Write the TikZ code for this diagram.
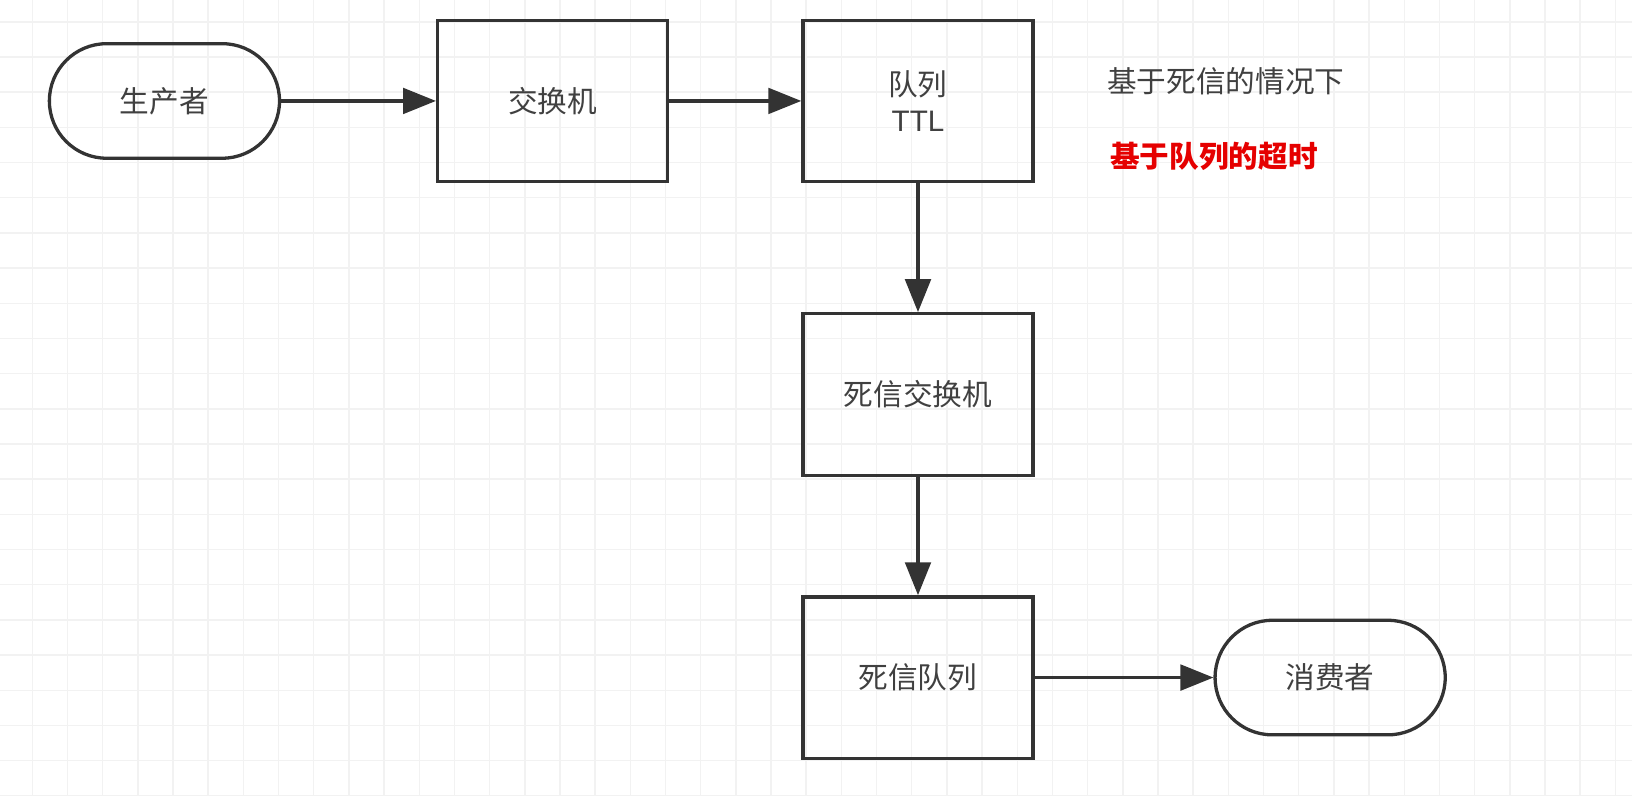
\documentclass[tikz,border=0pt]{standalone}
\usepackage{fontspec}
\setmainfont{Liberation Sans}
\newfontfamily\cjk{Noto Sans CJK SC}
\usetikzlibrary{positioning,arrows.meta}
\tikzset{%
box/.style={draw=black!80,line width=0.9pt,rectangle,minimum width=2.21cm,minimum height=1.55cm,font=\cjk\fontsize{8.1}{10}\selectfont,text=black!75,align=center},
term/.style={box,rounded corners=0.55cm,minimum height=1.1cm},
flow/.style={draw=black!80,line width=0.9pt,-{Triangle[length=9pt,width=7pt]}},
note/.style={anchor=west,inner sep=0,font=\cjk\fontsize{8.1}{10}\selectfont}
}
\begin{document}
\begin{tikzpicture}[x=0.01cm,y=-0.01cm]
  \useasboundingbox (0,0) rectangle (1568,764);
  % grid
  \foreach \i in {0,...,46} {
    \draw[black!5,line width=0.4pt] ({-2.8+33.8*\i},0) -- ({-2.8+33.8*\i},764);
  }
  \foreach \j in {0,...,22} {
    \draw[black!5,line width=0.4pt] (0,{21+33.8*\j}) -- (1568,{21+33.8*\j});
  }
  \node[term] (prod) at (158,97) {生产者};
  \node[box] (exch) at (531,97) {交换机};
  \node[box,font=\fontsize{8.1}{10}\selectfont] (ttl) at (882,97) {{\cjk 队列}\\TTL};
  \node[box] (dlx) at (882,379) {死信交换机};
  \node[box] (dlq) at (882,651) {死信队列};
  \node[term] (cons) at (1278,651) {消费者};
  \node[note,text=black!75] (hint) at (1063,78) {基于死信的情况下};
  \node[note,text=red!90!black,font=\cjk\bfseries\fontsize{8.1}{10}\selectfont] (mode) at (1066,150) {基于队列的超时};
  \draw[flow] (prod) -- (exch);
  \draw[flow] (exch) -- (ttl);
  \draw[flow] (ttl) -- (dlx);
  \draw[flow] (dlx) -- (dlq);
  \draw[flow] (dlq) -- (cons);
\end{tikzpicture}
\end{document}
